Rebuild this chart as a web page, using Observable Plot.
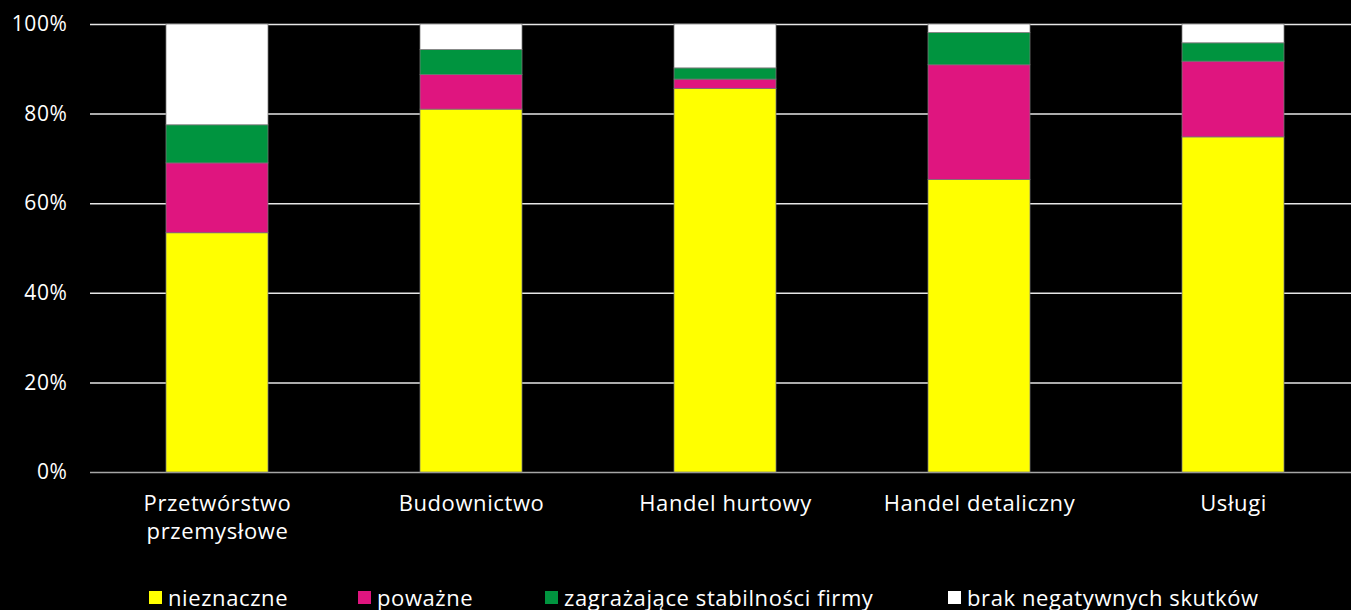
<!DOCTYPE html>
<html>
<head>
<meta charset="utf-8">
<script src="https://cdn.jsdelivr.net/npm/d3@7"></script>
<script src="https://cdn.jsdelivr.net/npm/@observablehq/plot@0.6"></script>
<style>
  html, body { margin: 0; padding: 0; background: #000; overflow: hidden; }
  body { width: 1351px; height: 610px; font-family: "Open Sans", "Noto Sans", sans-serif; color: #fff; }
  svg text { letter-spacing: 0.6px; }
  #legend { position: relative; height: 26px; font-size: 22px; line-height: 26px; letter-spacing: 0.6px; }
  .item { position: absolute; top: 0; white-space: nowrap; display: flex; align-items: center; }
  .sw { width: 13px; height: 13px; margin-right: 6px; display: inline-block; }
</style>
</head>
<body>
<div id="chart"></div>
<div id="legend"></div>
<script>
const categories = ["Przetwórstwo\nprzemysłowe", "Budownictwo", "Handel hurtowy", "Handel detaliczny", "Usługi"];
const seriesNames = ["nieznaczne", "poważne", "zagrażające stabilności firmy", "brak negatywnych skutków"];
const seriesColors = ["#ffff00", "#df157f", "#00943f", "#ffffff"];
const nieznaczne = [53.4, 81.0, 85.6, 65.3, 74.8];
const powazne = [15.6, 7.7, 2.1, 25.6, 16.9];
const zagrazajace = [8.5, 5.6, 2.5, 7.2, 4.1];
const brak = [22.5, 5.7, 9.8, 1.9, 4.2];
const yTicks = [0, 20, 40, 60, 80, 100];
const legendX = [149, 358, 545, 948];

const seriesValues = [nieznaczne, powazne, zagrazajace, brak];
const data = [];
seriesNames.forEach((s, si) => {
  categories.forEach((c, ci) => {
    data.push({category: c, series: s, value: seriesValues[si][ci]});
  });
});

const chart = Plot.plot({
  width: 1351,
  height: 584,
  marginLeft: 90,
  marginRight: -9,
  marginTop: 24,
  marginBottom: 112,
  style: {background: "#000", color: "#fff", fontFamily: "'Open Sans', 'Noto Sans', sans-serif", overflow: "hidden"},
  x: {domain: categories, paddingInner: 0.6, paddingOuter: 0.3, label: null},
  y: {domain: [0, 100], label: null},
  color: {domain: seriesNames, range: seriesColors},
  marks: [
    Plot.ruleY(yTicks.filter(d => d > 0), {stroke: "#e6e6e6", strokeWidth: 1.5}),
    Plot.ruleY([0], {stroke: "#a6a6a6", strokeWidth: 1.5}),
    Plot.barY(data, {x: "category", y: "value", fill: "series", stroke: "#7a7a7a", strokeWidth: 0.75}),
    Plot.axisY({ticks: yTicks, tickFormat: d => d + "%", tickSize: 0, tickPadding: 23, fontSize: 21, label: null}),
    Plot.axisX({tickSize: 0, tickPadding: 18, fontSize: 22, lineHeight: 1.3, label: null})
  ]
});
document.getElementById("chart").appendChild(chart);

const legend = document.getElementById("legend");
seriesNames.forEach((s, i) => {
  const item = document.createElement("div");
  item.className = "item";
  item.style.left = legendX[i] + "px";
  const sw = document.createElement("span");
  sw.className = "sw";
  sw.style.background = seriesColors[i];
  const t = document.createElement("span");
  t.textContent = s;
  item.appendChild(sw);
  item.appendChild(t);
  legend.appendChild(item);
});
</script>
</body>
</html>
